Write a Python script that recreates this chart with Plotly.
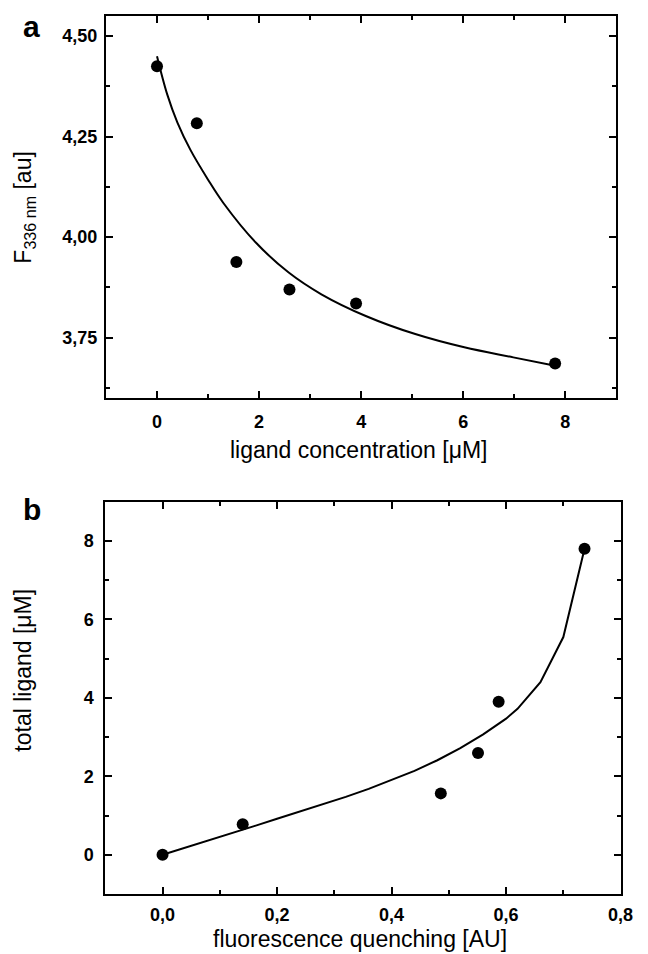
import plotly.graph_objects as go

PAGE_W, PAGE_H = 648, 954
OFF = 8  # default body margin of the html page
W, H = PAGE_W - OFF, PAGE_H - OFF

# ---------------- data: panel a ----------------
conc_uM = [0.0, 0.78, 1.555, 2.595, 3.90, 7.80]
f336 = [4.425, 4.283, 3.938, 3.870, 3.835, 3.686]
fit_a_x = [0.0, 0.2, 0.4, 0.655, 1.0, 1.3, 1.94, 2.58, 3.22, 4.09, 5.06, 6.02, 6.98, 7.8]
fit_a_y = [4.45, 4.355, 4.285, 4.217, 4.143, 4.085, 3.986, 3.912, 3.858, 3.804, 3.759, 3.726, 3.701, 3.680]
a_xticks = [0, 2, 4, 6, 8]
a_xticklabels = ["0", "2", "4", "6", "8"]
a_yticks = [3.75, 4.00, 4.25, 4.50]
a_yticklabels = ["3,75", "4,00", "4,25", "4,50"]

# ---------------- data: panel b ----------------
quench = [0.0, 0.140, 0.486, 0.551, 0.587, 0.737]
total_ligand = [0.0, 0.78, 1.565, 2.596, 3.90, 7.80]
fit_b_x = [0.0, 0.04, 0.08, 0.12, 0.16, 0.20, 0.24, 0.28, 0.32, 0.36, 0.40, 0.44,
           0.48, 0.52, 0.56, 0.60, 0.62, 0.66, 0.70, 0.737]
fit_b_y = [0.0, 0.18, 0.36, 0.54, 0.73, 0.92, 1.10, 1.285, 1.475, 1.68, 1.90, 2.14,
           2.41, 2.72, 3.07, 3.47, 3.72, 4.40, 5.55, 7.80]
b_xticks = [0.0, 0.2, 0.4, 0.6, 0.8]
b_xticklabels = ["0,0", "0,2", "0,4", "0,6", "0,8"]
b_yticks = [0, 2, 4, 6, 8]
b_yticklabels = ["0", "2", "4", "6", "8"]


def px_x(p):
    return (p - OFF) / W


def px_y(p):
    return 1 - (p - OFF) / H


fig = go.Figure()

# panel a
fig.add_trace(go.Scatter(x=fit_a_x, y=fit_a_y, mode="lines", line=dict(color="black", width=2, shape="spline"),
                         xaxis="x", yaxis="y", showlegend=False, hoverinfo="skip"))
fig.add_trace(go.Scatter(x=conc_uM, y=f336, mode="markers", marker=dict(color="black", size=12),
                         xaxis="x", yaxis="y", showlegend=False))
# panel b
fig.add_trace(go.Scatter(x=fit_b_x, y=fit_b_y, mode="lines", line=dict(color="black", width=2),
                         xaxis="x2", yaxis="y2", showlegend=False, hoverinfo="skip"))
fig.add_trace(go.Scatter(x=quench, y=total_ligand, mode="markers", marker=dict(color="black", size=12),
                         xaxis="x2", yaxis="y2", showlegend=False))

tickfont = dict(family="Liberation Sans, Arial, sans-serif", size=18, color="black", weight="bold")
common = dict(showline=True, linecolor="black", linewidth=2, mirror="ticks", ticks="inside",
              ticklen=7, tickwidth=1.5, tickcolor="black", showgrid=False, zeroline=False,
              tickfont=tickfont)
minor_common = dict(ticks="inside", ticklen=4, tickwidth=1.5, tickcolor="black")

fig.update_layout(
    width=W, height=H,
    margin=dict(l=0, r=0, t=0, b=0),
    paper_bgcolor="white", plot_bgcolor="white",
    xaxis=dict(domain=[px_x(108), px_x(629)], range=[-1, 9], anchor="y",
               tickvals=a_xticks, ticktext=a_xticklabels, ticklabelstandoff=6,
               minor=dict(dtick=1, tick0=1, **minor_common), **common),
    yaxis=dict(domain=[px_y(398), px_y(16)], range=[3.60, 4.55], anchor="x",
               tickvals=a_yticks, ticktext=a_yticklabels, ticklabelstandoff=3,
               minor=dict(dtick=0.125, tick0=3.625, **minor_common), **common),
    xaxis2=dict(domain=[px_x(107.3), px_x(633.3)], range=[-0.1, 0.8], anchor="y2",
                tickvals=b_xticks, ticktext=b_xticklabels, ticklabelstandoff=3,
                minor=dict(dtick=0.1, tick0=0.1, **minor_common), **common),
    yaxis2=dict(domain=[px_y(894), px_y(501.7)], range=[-1, 9], anchor="x2",
                tickvals=b_yticks, ticktext=b_yticklabels, ticklabelstandoff=6,
                minor=dict(dtick=1, tick0=1, **minor_common), **common),
)

title_font = dict(family="Liberation Sans, Arial, sans-serif", size=23, color="black")
panel_font = dict(family="Liberation Sans, Arial, sans-serif", size=30, color="black", weight="bold")

annotations = [
    dict(text="a", x=px_x(32), y=px_y(8), xanchor="center", yanchor="top", font=panel_font, showarrow=False),
    dict(text="b", x=px_x(32), y=px_y(509), xanchor="center", yanchor="middle", font=panel_font, showarrow=False),
    dict(text="ligand concentration [μM]", x=px_x(366), y=px_y(450), xanchor="center", yanchor="middle",
         font=title_font, showarrow=False),
    dict(text="F<sub>336 nm</sub> [au]", x=px_x(24), y=px_y(207), xanchor="center", yanchor="middle",
         font=title_font, textangle=-90, showarrow=False),
    dict(text="fluorescence quenching [AU]", x=px_x(367), y=px_y(954), xanchor="center", yanchor="bottom",
         font=title_font, showarrow=False),
    dict(text="total ligand [μM]", x=px_x(23), y=px_y(670), xanchor="center", yanchor="middle",
         font=title_font, textangle=-90, showarrow=False),
]
for a in annotations:
    a.update(xref="paper", yref="paper")
fig.update_layout(annotations=annotations)

fig.write_html("out.html")
